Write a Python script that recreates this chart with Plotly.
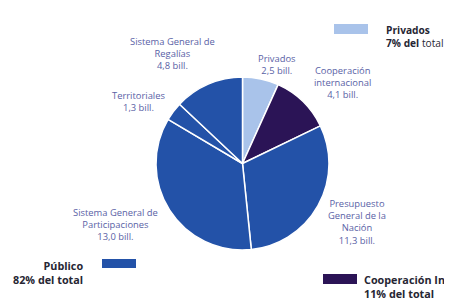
import plotly.graph_objects as go

# Data
categories = ["Privados", "Cooperación internacional", "Presupuesto General de la Nación",
              "Sistema General de Participaciones", "Territoriales", "Sistema General de Regalías"]
values = [2.5, 4.1, 11.3, 13.0, 1.3, 4.8]
value_labels = ["2,5 bill.", "4,1 bill.", "11,3 bill.", "13,0 bill.", "1,3 bill.", "4,8 bill."]
groups = ["Privados", "Cooperación", "Público", "Público", "Público", "Público"]

group_names = ["Privados", "Público", "Cooperación Int"]
group_shares = ["7% del", "82% del total", "11% del total"]

C_PRIV = "#a9c3ea"
C_COOP = "#2b1456"
C_PUB = "#2352a8"
color_map = {"Privados": C_PRIV, "Cooperación": C_COOP, "Público": C_PUB}

# page body has an 8px margin: figure covers page pixels 8..452, 8..302
OFF = 8
W, H = 452 - OFF, 302 - OFF


def px(x):
    return (x - OFF) / W


def py(y):
    return 1 - (y - OFF) / H


fig = go.Figure()
fig.add_trace(go.Pie(
    labels=categories,
    values=values,
    sort=False,
    direction="clockwise",
    rotation=0,
    marker=dict(colors=[color_map[g] for g in groups], line=dict(color="white", width=1.5)),
    textinfo="none",
    hoverinfo="label+value",
    showlegend=False,
    domain=dict(x=[px(156), px(329)], y=[py(250), py(77)]),
))

LBL = dict(family="Open Sans", size=9.4, color="#5a62a6")
label_text = [
    "Privados<br>" + value_labels[0],
    "Cooperación<br>internacional<br>" + value_labels[1],
    "Presupuesto<br>General de la<br>Nación<br>" + value_labels[2],
    "Sistema General de<br>Participaciones<br>" + value_labels[3],
    "Territoriales<br>" + value_labels[4],
    "Sistema General de<br>Regalías<br>" + value_labels[5],
]
label_pos = [(277, 64), (342, 82), (357, 222), (115, 224), (138, 101), (172, 53)]

annotations = []
for t, (x, y) in zip(label_text, label_pos):
    annotations.append(dict(text=t, x=px(x), y=py(y), xref="paper", yref="paper",
                            xanchor="center", yanchor="middle", showarrow=False,
                            font=LBL, align="center"))

LEG = dict(family="Open Sans", size=10.8, color="#262633")
LEG_TOP = dict(family="Open Sans", size=10.2, color="#262633")
# Privados legend
annotations.append(dict(text="<b>" + group_names[0] + "</b><br><b>" + group_shares[0] + "</b> total",
                        x=px(384), y=py(36), xref="paper", yref="paper", xanchor="left",
                        yanchor="middle", showarrow=False, font=LEG_TOP, align="left"))
# Público legend
annotations.append(dict(text="<b>" + group_names[1] + "</b><br><b>" + group_shares[1] + "</b>",
                        x=px(85), y=py(272), xref="paper", yref="paper", xanchor="right",
                        yanchor="middle", showarrow=False, font=LEG, align="right"))
# Cooperación legend
annotations.append(dict(text="<b>" + group_names[2] + "</b><br><b>" + group_shares[2] + "</b>",
                        x=px(362), y=py(286), xref="paper", yref="paper", xanchor="left",
                        yanchor="middle", showarrow=False, font=LEG, align="left"))

shapes = [
    dict(type="rect", xref="paper", yref="paper", x0=px(334), x1=px(368), y0=py(34), y1=py(24),
         fillcolor=C_PRIV, line=dict(width=0)),
    dict(type="rect", xref="paper", yref="paper", x0=px(102), x1=px(136), y0=py(268), y1=py(259),
         fillcolor=C_PUB, line=dict(width=0)),
    dict(type="rect", xref="paper", yref="paper", x0=px(323), x1=px(357), y0=py(284), y1=py(274),
         fillcolor=C_COOP, line=dict(width=0)),
]

fig.update_layout(
    width=W, height=H,
    margin=dict(l=0, r=0, t=0, b=0),
    paper_bgcolor="white", plot_bgcolor="white",
    annotations=annotations, shapes=shapes,
)

fig.write_html("out.html")
